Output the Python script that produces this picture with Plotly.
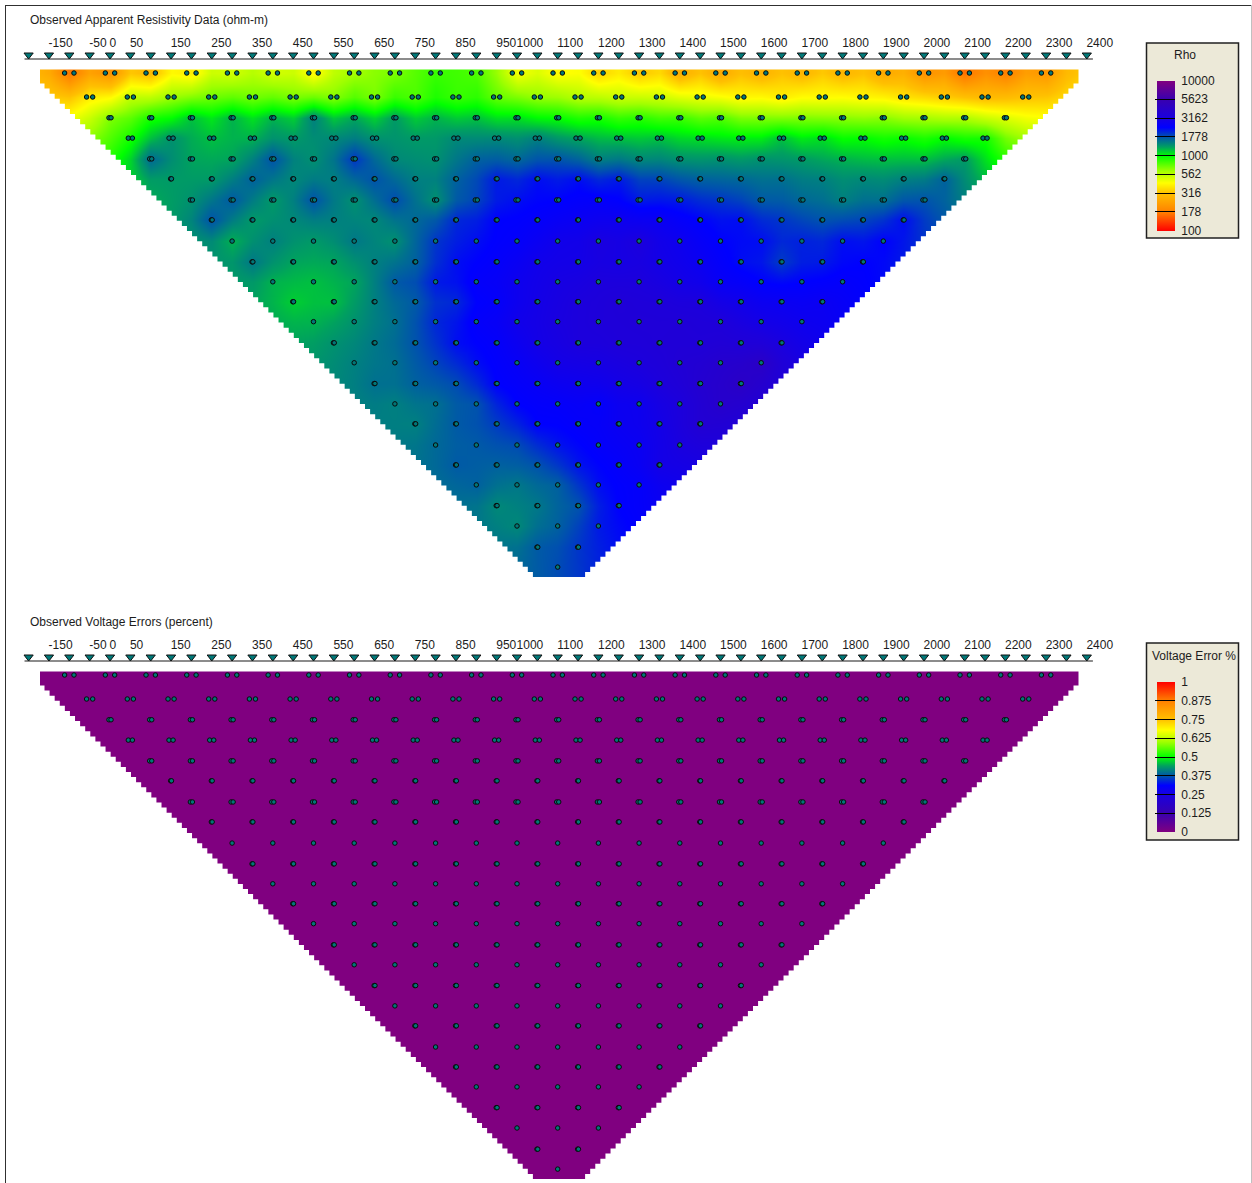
import math
import plotly.graph_objects as go

W, H = 1252, 1183
PX_PER_M = 0.407
ZERO_PX = 110.0
ROW0_PX = 73.0
PANEL2_SHIFT = 602.0

electrodes_m = list(range(-200, 2401, 50))
tick_labels_m = [-150, -50, 0, 50, 150, 250, 350, 450, 550, 650, 750, 850, 950,
                 1000, 1100, 1200, 1300, 1400, 1500, 1600, 1700, 1800, 1900, 2000, 2100, 2200, 2300, 2400]
depth_m = [0, 59, 110, 160, 211, 260, 312, 361, 413, 464, 513, 562, 611,
           663, 712, 763, 813, 862, 914, 963, 1012, 1063, 1113, 1165, 1214]
pair_half_gap_m = [11.5, 7.5, 2.5, 5, 2.5, 1, 2.5, 1, 0, 1, 0, 1, 0, 1, 0, 1, 0, 1, 0, 1, 0, 1, 0, 1, 0]

# Apparent resistivity (ohm-m); each row starts 50 m further right and is one point shorter.
rho_rows = [
    [170, 210, 300, 400, 520, 520, 420, 620, 700, 850, 800, 450, 430, 350, 330, 270, 260, 280, 290, 290, 260, 210, 165, 180, 220],
    [400, 560, 640, 730, 720, 700, 680, 700, 800, 850, 750, 650, 580, 540, 530, 470, 420, 400, 430, 420, 380, 340, 300, 320],
    [700, 950, 1200, 1250, 1250, 1500, 1300, 1350, 1250, 1200, 1100, 1000, 950, 900, 850, 800, 700, 700, 680, 680, 620, 600, 500],
    [950, 1400, 1200, 1250, 1350, 1450, 1400, 1350, 1450, 1450, 1500, 1300, 1200, 1200, 1100, 1050, 1200, 1100, 1000, 980, 1000, 950],
    [1650, 1300, 1300, 1800, 1400, 2000, 1450, 1400, 1700, 1650, 1800, 1500, 1450, 1400, 1400, 1400, 1350, 1250, 1200, 1200, 1350],
    [1350, 1350, 1700, 1450, 1500, 1800, 1500, 1700, 2200, 2300, 2300, 2200, 1900, 1700, 1650, 1600, 1500, 1450, 1500, 1700],
    [1400, 1750, 1350, 1800, 1400, 1850, 1400, 1900, 2300, 2400, 2500, 2200, 2200, 2000, 1750, 1650, 1500, 1600, 1800],
    [1800, 1350, 1450, 1500, 1450, 1650, 2100, 2400, 2500, 2700, 2800, 2700, 2400, 2300, 2000, 1800, 1900, 2300],
    [1250, 1500, 1350, 1550, 1400, 2000, 2300, 2500, 2900, 3200, 3300, 2800, 2400, 2300, 2150, 2300, 2400],
    [1550, 1300, 1300, 1500, 1700, 2300, 2500, 2900, 3000, 3100, 3000, 2700, 2300, 1950, 2200, 2400],
    [1250, 1200, 1300, 1750, 2200, 2500, 2800, 3100, 3300, 3300, 3000, 2600, 2400, 2400, 2500],
    [1150, 1200, 1500, 1750, 2100, 2500, 3000, 3300, 3500, 3400, 3300, 2900, 2700, 2700],
    [1250, 1400, 1600, 2100, 2500, 2900, 3200, 3400, 3500, 3500, 3400, 3000, 2800],
    [1400, 1550, 1800, 2300, 2500, 3000, 3300, 3400, 3500, 3500, 3500, 3200],
    [1500, 1600, 1900, 2300, 2600, 3000, 3100, 3300, 3600, 3900, 4300],
    [1600, 1700, 1850, 2400, 2600, 2800, 3000, 3300, 3800, 4300],
    [1500, 1600, 1800, 2400, 2500, 2500, 2800, 3300, 4000],
    [1500, 1750, 1950, 2400, 2500, 2700, 3000, 3700],
    [1650, 1750, 1850, 2250, 2500, 2700, 3200],
    [1750, 1700, 1800, 2250, 2500, 3000],
    [1700, 1550, 1700, 2300, 2500],
    [1450, 1550, 1800, 2400],
    [1450, 1700, 2200],
    [1750, 2000],
    [1850],
]
# Every voltage error reads as zero in the lower section.
error_rows = [[0] * len(row) for row in rho_rows]

rho_ticks = [100, 178, 316, 562, 1000, 1778, 3162, 5623, 10000]
error_ticks = ["0", "0.125", "0.25", "0.375", "0.5", "0.625", "0.75", "0.875", "1"]

colorscale = [
    [0.0, "#ff0000"], [0.125, "#ff8000"], [0.25, "#ffc000"], [0.32, "#ffff00"],
    [0.40, "#a0ff00"], [0.5, "#00ff00"], [0.56, "#00a060"], [0.63, "#0050b0"],
    [0.69, "#0000ff"], [0.76, "#1c00dc"], [0.875, "#3800b0"], [1.0, "#800080"],
]
# The error legend runs the same colours with purple at zero and red at one.
error_colorscale = [[round(1 - p, 3), c] for p, c in reversed(colorscale)]
TEAL = "#007878"
INK = "#1c1c1c"


def m_x(px):
    return (px - ZERO_PX) / PX_PER_M


def m_d(px):
    return (px - ROW0_PX) / PX_PER_M


def lattice(rows, transform):
    z = [[None] * len(electrodes_m) for _ in depth_m]
    for k, row in enumerate(rows):
        for j, v in enumerate(row):
            x = -100 + 50 * k + 100 * j
            z[k][electrodes_m.index(x)] = transform(v)
    return z


def datum_points(rows):
    xs, ys = [], []
    for k, row in enumerate(rows):
        for j in range(len(row)):
            x = -100 + 50 * k + 100 * j
            gap = pair_half_gap_m[k]
            for off in ([-gap, gap] if gap else [0]):
                xs.append(x + off)
                ys.append(depth_m[k])
    return xs, ys


def stair(x0, d0, slope, d1, step=12.5):
    pts = []
    d, x = d0, x0
    while d < d1:
        pts.append((x, d))
        d_next = d + step
        pts.append((x, d_next))
        x += slope * step
        d = d_next
    pts.append((x, d1))
    return pts


def mask_xy():
    top, bottom = m_d(69.5), m_d(578.5)
    d_start = m_d(83.5)
    xl, xr = m_x(40), m_x(1078.5)
    xs, ys = [], []
    left = stair(m_x(44.5), d_start, 1.0, bottom)
    poly = [(-300, -250), (xl, -250), (xl, d_start)] + left + [(left[-1][0], 1300), (-300, 1300), (-300, -250)]
    right = stair(m_x(1073.5), d_start, -1.0, bottom)
    poly2 = [(2700, -250), (xr, -250), (xr, d_start)] + right + [(right[-1][0], 1300), (2700, 1300), (2700, -250)]
    poly3 = [(xl, -250), (xr, -250), (xr, top), (xl, top), (xl, -250)]
    poly4 = [(left[-1][0], bottom), (right[-1][0], bottom), (right[-1][0], 1300), (left[-1][0], 1300), (left[-1][0], bottom)]
    for p in (poly, poly2, poly3, poly4):
        xs += [a for a, _ in p] + [None]
        ys += [b for _, b in p] + [None]
    return xs, ys


fig = go.Figure()


def add_panel(rows, transform, zmin, zmax, scale, tickvals, ticktext, ax, bar_top):
    xa, ya = ("x", "y") if ax == 1 else ("x2", "y2")
    fig.add_trace(go.Heatmap(
        x=electrodes_m, y=depth_m, z=lattice(rows, transform), zsmooth="best", connectgaps=True,
        zmin=zmin, zmax=zmax, colorscale=scale, xaxis=xa, yaxis=ya, hoverinfo="skip",
        colorbar=dict(
            x=1157 / W, xanchor="left", xpad=0, y=1 - bar_top / H, yanchor="top", ypad=0,
            lenmode="pixels", len=149.5, thickness=18, thicknessmode="pixels", outlinewidth=0,
            tickmode="array", tickvals=tickvals, ticktext=["\u00a0" + t for t in ticktext],
            ticks="inside", ticklen=20, tickwidth=1, tickcolor="#000000",
            tickfont=dict(family="Liberation Sans", size=12, color=INK),
        ),
    ))
    mx, my = mask_xy()
    fig.add_trace(go.Scatter(x=mx, y=my, mode="lines", fill="toself", fillcolor="#ffffff",
                             line=dict(width=0, color="#ffffff"), xaxis=xa, yaxis=ya,
                             hoverinfo="skip", showlegend=False))
    px, py = datum_points(rows)
    fig.add_trace(go.Scatter(x=px, y=py, mode="markers", xaxis=xa, yaxis=ya, showlegend=False, hoverinfo="skip",
                             marker=dict(size=4.5, color=TEAL, line=dict(width=1, color="#0a0a0a"))))
    fig.add_trace(go.Scatter(x=[electrodes_m[0] - 10, electrodes_m[-1] + 15], y=[m_d(59)] * 2, mode="lines",
                             line=dict(color="#1a1a1a", width=1.2), xaxis=xa, yaxis=ya,
                             showlegend=False, hoverinfo="skip"))
    fig.add_trace(go.Scatter(x=electrodes_m, y=[m_d(55)] * len(electrodes_m), mode="markers", xaxis=xa, yaxis=ya,
                             showlegend=False, hoverinfo="skip",
                             marker=dict(symbol="triangle-down", size=8, color=TEAL, line=dict(width=1, color="#101010"))))
    fig.add_trace(go.Scatter(x=[v - 1 for v in tick_labels_m], y=[m_d(44)] * len(tick_labels_m), mode="text",
                             text=[str(v) for v in tick_labels_m], textposition="middle right",
                             textfont=dict(family="Liberation Sans", size=12, color=INK),
                             xaxis=xa, yaxis=ya, showlegend=False, hoverinfo="skip"))


add_panel(rho_rows, math.log10, 2, 4, colorscale, [math.log10(v) for v in rho_ticks], [str(v) for v in rho_ticks], 1, 80.5)
add_panel(error_rows, float, 0, 1, error_colorscale, [i / 8 for i in range(9)], error_ticks, 2, 682)

x_range = [m_x(0), m_x(W)]
d_range = [m_d(581), m_d(0)]


def px_annot(px, py, text, anchor="left"):
    return dict(xref="paper", yref="paper", x=px / W, y=1 - py / H, text=text, showarrow=False, xanchor=anchor,
                yanchor="middle", font=dict(family="Liberation Sans", size=12, color=INK))


def px_rect(x0, y0, x1, y1, **kw):
    return dict(type="rect", xref="paper", yref="paper", x0=x0 / W, x1=x1 / W, y0=1 - y0 / H, y1=1 - y1 / H, **kw)


def px_line(x0, y0, x1, y1, color, width=1):
    return dict(type="line", xref="paper", yref="paper", x0=x0 / W, x1=x1 / W, y0=1 - y0 / H, y1=1 - y1 / H,
                line=dict(color=color, width=width), layer="above")


legend_box = dict(fillcolor="#ece9d8", line=dict(color="#202020", width=1.5), layer="above")
axis_off = dict(visible=False, fixedrange=True)

fig.update_layout(
    width=W, height=H, margin=dict(l=0, r=0, t=0, b=0), autosize=False,
    paper_bgcolor="#ffffff", plot_bgcolor="rgba(0,0,0,0)", showlegend=False,
    xaxis=dict(range=x_range, domain=[0, 1], anchor="y", **axis_off),
    xaxis2=dict(range=x_range, domain=[0, 1], anchor="y2", **axis_off),
    yaxis=dict(range=d_range, domain=[1 - 581 / H, 1], anchor="x", **axis_off),
    yaxis2=dict(range=d_range, domain=[0, 1 - PANEL2_SHIFT / H], anchor="x2", **axis_off),
    shapes=[
        px_rect(1146.5, 43, 1238.5, 238, **legend_box),
        px_rect(1146.5, 643, 1238.5, 840, **legend_box),
        px_line(5, 5.5, W, 5.5, "#303030"),
        px_line(5.5, 5, 5.5, H, "#303030"),
        px_line(1251.5, 5, 1251.5, H, "#c0c0c0"),
    ],
    annotations=[
        px_annot(28, 20, "Observed Apparent Resistivity Data (ohm-m)"),
        px_annot(28, 621.5, "Observed Voltage Errors (percent)"),
        px_annot(1184.5, 55, "Rho", "center"),
        px_annot(1193.5, 656, "Voltage Error %", "center"),
    ],
)

fig.write_html("out.html", config={"displayModeBar": False},
               post_script="document.body.style.margin='0';document.documentElement.style.overflow='hidden';")
